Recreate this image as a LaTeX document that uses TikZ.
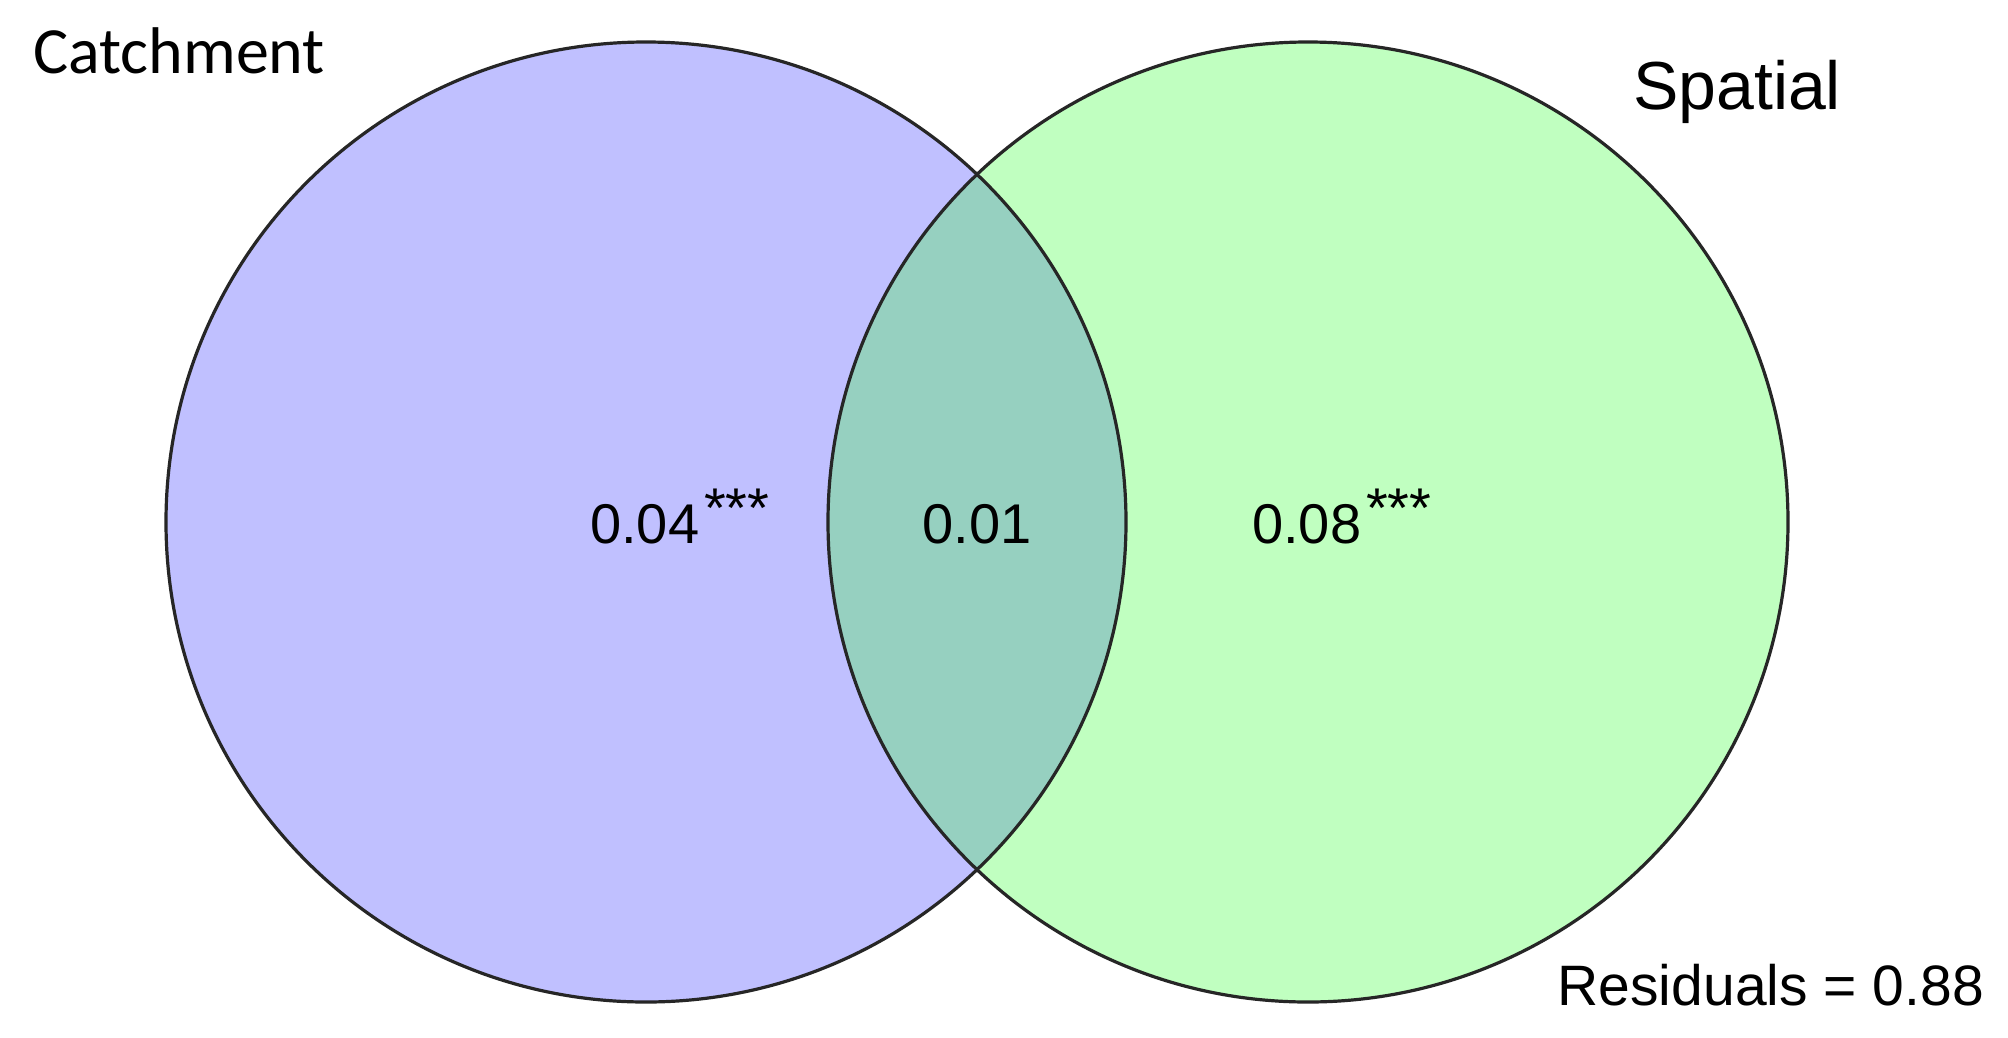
\documentclass[tikz,border=0pt]{standalone}
\usepackage{fontspec}
\setmainfont{Liberation Sans}
\newfontfamily\calib{Carlito}
\definecolor{leftc}{RGB}{192,192,255}
\definecolor{rightc}{RGB}{192,255,192}
\definecolor{lensc}{RGB}{150,208,192}
\begin{document}
\begin{tikzpicture}[x=1pt,y=-1pt,
  venn/.style={circle,draw=black!85,line width=3.2pt,minimum size=960pt,inner sep=0pt},
  lbl/.style={inner sep=0pt,font=\fontsize{56}{66}\selectfont},
  ttl/.style={inner sep=0pt}]
\useasboundingbox (0,0) rectangle (2008,1037);
\fill[white] (0,0) rectangle (2008,1037);
\fill[leftc] (646,522) circle[radius=480pt];
\fill[rightc] (1308,522) circle[radius=480pt];
\begin{scope}
  \clip (646,522) circle[radius=480pt];
  \fill[lensc] (1308,522) circle[radius=480pt];
\end{scope}
\node[venn] (cA) at (646,522) {};
\node[venn] (cB) at (1308,522) {};
\node[ttl,anchor=base west,font=\calib\fontsize{66}{79}\selectfont] (catch) at (33,73) {Catchment};
\node[ttl,anchor=base west,font=\fontsize{68}{80}\selectfont] (spat) at (1633,109) {Spatial};
\node[ttl,anchor=base east,font=\fontsize{57}{68}\selectfont] (resid) at (1984,1005) {Residuals = 0.88};
\node[lbl,anchor=base west] (l04) at (590,543) {0.04\kern5pt\raisebox{16pt}{\fontsize{56}{66}\selectfont***}};
\node[lbl,anchor=base] (l01) at (977,543) {0.01};
\node[lbl,anchor=base west] (l08) at (1252,543) {0.08\kern5pt\raisebox{16pt}{\fontsize{56}{66}\selectfont***}};
\end{tikzpicture}
\end{document}
